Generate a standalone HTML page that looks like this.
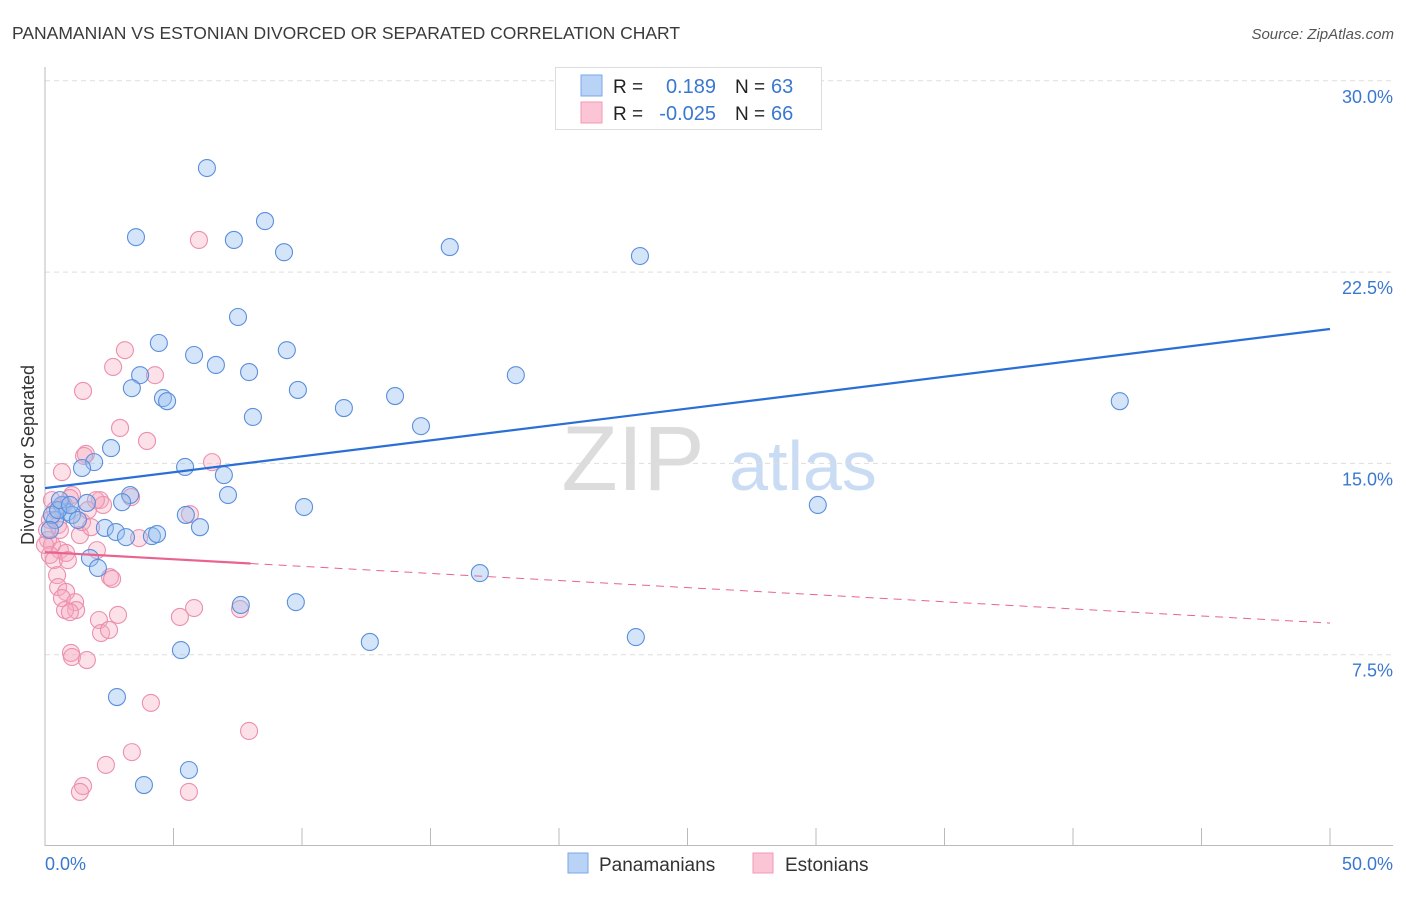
<!DOCTYPE html>
<html><head><meta charset="utf-8"><style>
body{margin:0;background:#fff;font-family:"Liberation Sans",sans-serif}
svg text{font-family:"Liberation Sans",sans-serif}
</style></head><body>
<svg id="c" width="1406" height="892">
<text x="12" y="39" font-size="17.5" fill="#3a3a3a">PANAMANIAN VS ESTONIAN DIVORCED OR SEPARATED CORRELATION CHART</text>
<text x="1394" y="39" font-size="15" fill="#555" font-style="italic" text-anchor="end">Source: ZipAtlas.com</text>
<g>
<text x="633" y="490" font-size="92" fill="#dcdcdc" font-family="Liberation Serif" text-anchor="middle">ZIP</text>
<text x="803" y="490" font-size="70" fill="#c9dcf3" text-anchor="middle">atlas</text>
</g>
<g id="grid"></g>
<g id="axes"></g>
<g id="pts"></g>
<g id="trend"></g>
<text transform="translate(34,455) rotate(-90)" font-size="18" fill="#333" text-anchor="middle">Divorced or Separated</text>
<g>
<rect x="555.5" y="67.5" width="266" height="62" fill="#fff" stroke="#ddd"/>
<rect x="581" y="75" width="21" height="21" fill="#b8d3f5" stroke="#7aa7e6"/>
<rect x="581" y="102" width="21" height="21" fill="#fbc5d6" stroke="#f09ab6"/>
<text x="613" y="93" font-size="19" fill="#222">R =</text>
<text x="716" y="93" font-size="20" fill="#3a78d0" text-anchor="end">0.189</text>
<text x="735" y="93" font-size="19" fill="#222">N =</text>
<text x="771" y="93" font-size="20" fill="#3a78d0">63</text>
<text x="613" y="120" font-size="19" fill="#222">R =</text>
<text x="716" y="120" font-size="20" fill="#3a78d0" text-anchor="end">-0.025</text>
<text x="735" y="120" font-size="19" fill="#222">N =</text>
<text x="771" y="120" font-size="20" fill="#3a78d0">66</text>
</g>
<g>
<rect x="568" y="853" width="20" height="20" fill="#b8d3f5" stroke="#7aa7e6"/>
<text x="599" y="871" font-size="19" fill="#333">Panamanians</text>
<rect x="753" y="853" width="20" height="20" fill="#fbc5d6" stroke="#f09ab6"/>
<text x="785" y="871" font-size="19" fill="#333">Estonians</text>
</g>
</svg>
<script>
const blueX=[6.30,3.54,7.35,8.56,9.30,15.75,23.15,7.51,4.43,5.80,9.41,6.65,7.94,3.70,3.38,9.84,4.59,4.75,13.62,18.32,11.63,8.09,14.63,41.82,2.57,1.91,1.44,5.45,6.96,7.12,3.31,1.63,3.00,10.08,5.48,6.03,30.07,2.33,2.76,3.15,4.16,4.36,0.66,0.86,1.05,1.28,0.39,0.27,0.51,1.75,2.06,16.92,7.62,9.76,12.64,22.99,5.29,2.80,5.60,3.85,0.58,0.97,0.19];
const blueY=[26.58,23.87,23.76,24.50,23.28,23.48,23.13,20.74,19.72,19.25,19.44,18.86,18.58,18.46,17.95,17.88,17.56,17.44,17.64,18.46,17.17,16.82,16.46,17.44,15.60,15.05,14.82,14.86,14.54,13.76,13.76,13.45,13.48,13.29,12.98,12.50,13.37,12.47,12.31,12.11,12.15,12.23,13.37,13.09,12.98,12.78,12.78,12.98,13.17,11.29,10.90,10.70,9.45,9.56,8.00,8.19,7.68,5.84,2.98,2.39,13.56,13.37,12.39];
const pinkX=[5.99,3.11,2.65,4.28,1.48,2.92,3.97,1.59,1.52,6.50,0.66,1.05,0.97,2.14,2.26,3.35,5.64,1.98,0.27,0.39,0.19,0.51,1.36,0.12,0.27,0.58,0.82,0.19,0.35,0.89,2.02,3.66,0.47,0.51,0.82,0.66,1.17,1.21,0.78,0.97,2.53,2.61,2.84,2.10,2.18,2.49,5.25,5.80,7.59,1.01,1.05,1.63,4.12,7.94,3.38,2.37,1.48,1.36,5.60,1.44,1.67,0.58,0.00,0.08,0.74,1.79];
const pinkY=[23.76,19.44,18.78,18.46,17.84,16.39,15.88,15.37,15.29,15.05,14.66,13.76,13.64,13.56,13.37,13.68,13.01,13.56,13.56,13.17,12.78,12.58,12.19,12.00,11.80,11.60,11.49,11.41,11.21,11.21,11.60,12.07,10.62,10.15,9.96,9.72,9.56,9.25,9.25,9.17,10.54,10.47,9.06,8.86,8.35,8.47,8.98,9.33,9.29,7.57,7.41,7.29,5.61,4.51,3.68,3.18,2.35,2.12,2.12,12.70,13.17,12.39,11.80,12.39,13.37,12.50];
const blueTrend=[14.03,20.27];
const pinkTrend=[11.52,8.74];
const yTicks=[7.5,15,22.5,30];
const yTickLabels=["7.5%","15.0%","22.5%","30.0%"];
const xTickLabels=["0.0%","50.0%"];
const NS="http://www.w3.org/2000/svg";
const X=v=>45+v/50*1285, Y=v=>846-v/7.5*191.3;
function mk(p,t,a){const e=document.createElementNS(NS,t);for(const k in a)e.setAttribute(k,a[k]);p.appendChild(e);return e;}
const grid=document.getElementById('grid'),axes=document.getElementById('axes'),pts=document.getElementById('pts'),tr=document.getElementById('trend');
yTicks.forEach((t,i)=>{
 const l=mk(grid,'line',{x1:45,x2:1393,y1:Y(t),y2:Y(t),stroke:'#ddd','stroke-dasharray':'5,4'});
 
 
 const tx=mk(axes,'text',{x:1393,y:Y(t)+22,'font-size':18,fill:'#3a78d0','text-anchor':'end'});
 tx.textContent=yTickLabels[i];
 
 
});
let a=mk(axes,'line',{x1:45,x2:45,y1:67,y2:846,stroke:'#bbb'});


a=mk(axes,'line',{x1:45,x2:1393,y1:845.5,y2:845.5,stroke:'#bbb'});


for(let i=0;i<=10;i++){const t=mk(axes,'line',{x1:X(i*5),x2:X(i*5),y1:828,y2:846,stroke:'#bbb'});
 
 }
let t0=mk(axes,'text',{x:45,y:870,'font-size':18,fill:'#3a78d0'});t0.textContent=xTickLabels[0];


let t1=mk(axes,'text',{x:1393,y:870,'font-size':18,fill:'#3a78d0','text-anchor':'end'});t1.textContent=xTickLabels[1];


pinkX.forEach((x,i)=>{const c=mk(pts,'circle',{cx:X(x),cy:Y(pinkY[i]),r:8.5,fill:'rgba(246,168,192,0.35)',stroke:'#ec8fae','stroke-width':1.1});
 
 });
blueX.forEach((x,i)=>{const c=mk(pts,'circle',{cx:X(x),cy:Y(blueY[i]),r:8.5,fill:'rgba(150,190,240,0.4)',stroke:'#5b8fdc','stroke-width':1.1});
 
 });
let bl=mk(tr,'line',{x1:X(0),y1:Y(blueTrend[0]),x2:X(50),y2:Y(blueTrend[1]),stroke:'#2a6fd6','stroke-width':2.2});


const pm=v=>pinkTrend[0]+(pinkTrend[1]-pinkTrend[0])*v/50;
let ps=mk(tr,'line',{x1:X(0),y1:Y(pm(0)),x2:X(8),y2:Y(pm(8)),stroke:'#e8648f','stroke-width':2.2});


let pd=mk(tr,'line',{x1:X(8),y1:Y(pm(8)),x2:X(50),y2:Y(pm(50)),stroke:'#e8648f','stroke-width':1,'stroke-dasharray':'8,6'});


</script>
</body></html>
